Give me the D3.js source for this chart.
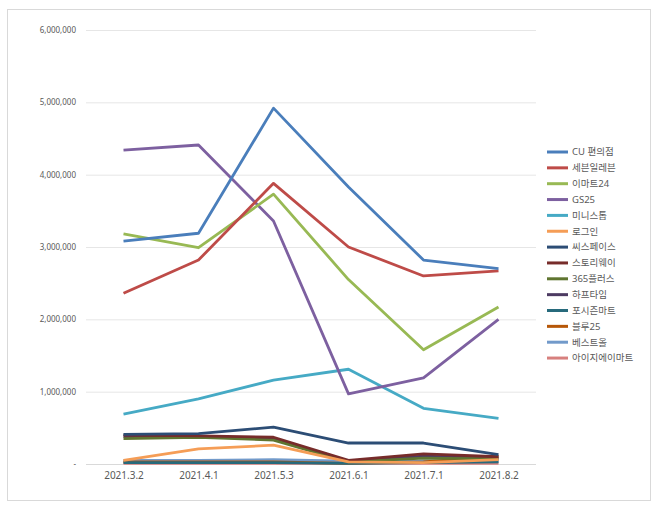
<!DOCTYPE html>
<html>
<head>
<meta charset="utf-8">
<script src="https://cdn.jsdelivr.net/npm/d3@7"></script>
<style>
  body { margin: 0; background: #fff; }
  text { font-family: "Noto Sans", "Noto Sans CJK KR", sans-serif; fill: #595959; }
</style>
</head>
<body>
<div id="chart"></div>
<script>
var dates = ["2021.3.2", "2021.4.1", "2021.5.3", "2021.6.1", "2021.7.1", "2021.8.2"];
var yTicks = [0, 1000000, 2000000, 3000000, 4000000, 5000000, 6000000];

var names = ["CU 편의점", "세븐일레븐", "이마트24", "GS25", "미니스톱", "로그인", "씨스페이스",
  "스토리웨이", "365플러스", "하프타임", "포시즌마트", "블루25", "베스트올", "아이지에이마트"];
var colors = ["#4a7ebb", "#be4b48", "#98b954", "#7d60a0", "#46aac5", "#f59d56", "#2c4d75",
  "#772c2a", "#5f7530", "#4d3b62", "#276a7c", "#b65708", "#729aca", "#d7807e"];

var cu       = [3080000, 3190000, 4920000, 3830000, 2820000, 2700000];
var seven    = [2360000, 2820000, 3880000, 3000000, 2600000, 2670000];
var emart24  = [3180000, 2990000, 3730000, 2550000, 1580000, 2170000];
var gs25     = [4340000, 4410000, 3360000, 970000, 1190000, 2000000];
var ministop = [690000, 900000, 1160000, 1310000, 770000, 630000];
var login    = [50000, 210000, 260000, 30000, 20000, 60000];
var cspace   = [410000, 420000, 510000, 290000, 290000, 130000];
var storyway = [400000, 390000, 370000, 50000, 140000, 100000];
var plus365  = [350000, 370000, 330000, 30000, 80000, 70000];
var halftime = [380000, 380000, 350000, 40000, 110000, 80000];
var fourseason = [20000, 20000, 20000, 10000, 20000, 30000];
var blue25   = [30000, 30000, 30000, 10000, 30000, 110000];
var bestall  = [50000, 50000, 60000, 40000, 40000, 40000];
var igamart  = [10000, 10000, 10000, 10000, 10000, 10000];

var series = [cu, seven, emart24, gs25, ministop, login, cspace,
  storyway, plus365, halftime, fourseason, blue25, bestall, igamart];

var W = 660, H = 510;
var svg = d3.select("#chart").append("svg")
  .attr("width", W)
  .attr("height", H);

// outer frame
svg.append("rect")
  .attr("x", 7.5).attr("y", 9.5)
  .attr("width", 643).attr("height", 491)
  .attr("fill", "#fff")
  .attr("stroke", "#d9d9d9");

var x = d3.scalePoint().domain(dates).range([86, 536]).padding(0.5);
var y = d3.scaleLinear().domain([0, 6000000]).range([464, 30]);

// gridlines
svg.append("g")
  .selectAll("line")
  .data(yTicks)
  .join("line")
    .attr("x1", 86).attr("x2", 536)
    .attr("y1", function(d){ return y(d) + 0.5; })
    .attr("y2", function(d){ return y(d) + 0.5; })
    .attr("stroke", function(d){ return d == 0 ? "#d9d9d9" : "#e6e6e6"; });

// y axis
var yAxis = svg.append("g")
  .attr("transform", "translate(76,0)")
  .call(d3.axisLeft(y).tickValues(yTicks).tickSize(0).tickPadding(0)
    .tickFormat(function(d){ return d == 0 ? "-" : d3.format(",")(d); }));
yAxis.select(".domain").remove();
yAxis.selectAll("text").style("font-size", "8px").attr("fill", "#595959");

// x axis
var xAxis = svg.append("g")
  .attr("transform", "translate(0,464)")
  .call(d3.axisBottom(x).tickSize(0).tickPadding(8));
xAxis.select(".domain").remove();
xAxis.selectAll("text").style("font-size", "10px").attr("fill", "#595959");

// lines, drawn last series first so CU ends up on top
var line = d3.line()
  .x(function(d, i){ return x(dates[i]); })
  .y(function(d){ return y(d); });

svg.append("g")
  .selectAll("path")
  .data(series.map(function(s, i){ return {v: s, i: i}; }).reverse())
  .join("path")
    .attr("d", function(d){ return line(d.v); })
    .attr("fill", "none")
    .attr("stroke", function(d){ return colors[d.i]; })
    .attr("stroke-width", 2.8)
    .attr("stroke-linejoin", "round");

// legend
var legend = svg.append("g")
  .selectAll("g")
  .data(names)
  .join("g")
    .attr("transform", function(d, i){ return "translate(547," + (152 + i * 15.85) + ")"; });

legend.append("line")
  .attr("x1", 0).attr("x2", 21)
  .attr("stroke", function(d, i){ return colors[i]; })
  .attr("stroke-width", 3);

legend.append("text")
  .attr("x", 25)
  .attr("dy", "0.35em")
  .style("font-size", "9.5px")
  .text(function(d){ return d; });
</script>
</body>
</html>
